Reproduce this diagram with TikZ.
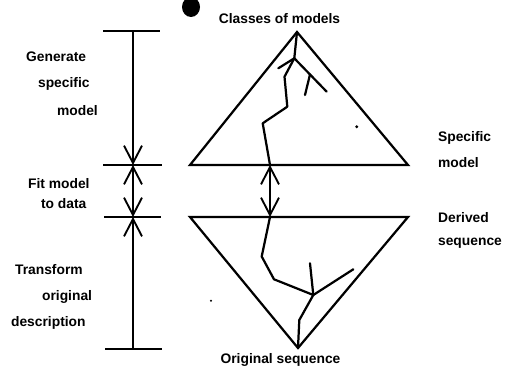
\documentclass[tikz,border=0pt]{standalone}
\usepackage{fontspec}
\setmainfont{Liberation Sans}
\usetikzlibrary{arrows.meta}

\begin{document}
\begin{tikzpicture}[x=0.03cm, y=-0.03cm,
  line width=1.9pt,
  lbl/.style={font=\fontsize{11.8}{13}\selectfont\bfseries, inner sep=0pt, anchor=base west},
  ttl/.style={lbl, anchor=base},
  barb/.style={-{Straight Barb[length=0.52cm, width=0.54cm, line width=1.6pt]}},
  dbarb/.style={{Straight Barb[length=0.52cm, width=0.54cm, line width=1.6pt]}-{Straight Barb[length=0.52cm, width=0.54cm, line width=1.6pt]}},
  branch/.style={line cap=round, line join=round}
]
  \useasboundingbox (0,0) rectangle (505,367);

  % scale on the left
  \coordinate (stop) at (133,31);
  \coordinate (sfit) at (133,165);
  \coordinate (sder) at (133,217);
  \coordinate (sbot) at (133,349);
  \draw (103,31) -- (160,31);
  \draw (103,165) -- (162,165);
  \draw (104,217) -- (161,217);
  \draw (105,349) -- (162,349);
  \draw[barb] (stop) -- (sfit);
  \draw[dbarb] (sfit) -- (sder);
  \draw[barb] (sbot) -- (sder);

  \node[lbl] (gen1) at (25,62) {Generate};
  \node[lbl] (gen2) at (37,88) {specific};
  \node[lbl] (gen3) at (56,115) {model};
  \node[lbl] (fit1) at (27,188) {Fit model};
  \node[lbl] (fit2) at (40,208) {to data};
  \node[lbl] (tr1)  at (14,274) {Transform};
  \node[lbl] (tr2)  at (41,300) {original};
  \node[lbl] (tr3)  at (10,326) {description};

  % the two triangles
  \coordinate (utop) at (297,32);
  \coordinate (uleft) at (190,165);
  \coordinate (uright) at (408,165);
  \coordinate (lleft) at (190,217);
  \coordinate (lright) at (408,217);
  \coordinate (lbot) at (298,348);
  \draw[line join=miter] (utop) -- (uright) -- (uleft) -- cycle;
  \draw[line join=miter] (lbot) -- (lright) -- (lleft) -- cycle;

  % tree in the upper triangle
  \coordinate (u1) at (294.3,58.3);
  \coordinate (ul) at (278.3,68.3);
  \coordinate (u2) at (284.5,76.7);
  \coordinate (u3) at (287.3,106.7);
  \coordinate (u4) at (262.7,123.3);
  \coordinate (u5) at (270,165);
  \coordinate (ur) at (326.7,91.7);
  \coordinate (um0) at (310,74.5);
  \coordinate (um1) at (305,95);
  \draw[branch] (utop) -- (u1) -- (u2) -- (u3) -- (u4) -- (u5);
  \draw[branch] (u1) -- (ul);
  \draw[branch] (u1) -- (ur);
  \draw[branch] (um0) -- (um1);

  % tree in the lower triangle
  \coordinate (l0) at (270,217);
  \coordinate (l1) at (261.7,256.5);
  \coordinate (l2) at (274,279.3);
  \coordinate (l3) at (313.3,295);
  \coordinate (lu) at (310,263.3);
  \coordinate (lr) at (353.3,269.3);
  \coordinate (l4) at (299.3,320);
  \draw[branch] (l0) -- (l1) -- (l2) -- (l3) -- (l4) -- (lbot);
  \draw[branch] (l3) -- (lu);
  \draw[branch] (l3) -- (lr);

  \draw[dbarb] (u5) -- (l0);

  \node[ttl] (cls) at (279.5,24) {Classes of models};
  \node[ttl] (org) at (280.5,363) {Original sequence};
  \node[lbl] (spec1) at (437,141) {Specific};
  \node[lbl] (spec2) at (437,167) {model};
  \node[lbl] (der1)  at (437,222) {Derived};
  \node[lbl] (der2)  at (437,245) {sequence};

  % marks on the sheet
  \fill (191,7) ellipse [x radius=9, y radius=10];
  \fill (356.7,126.7) circle [radius=1.6];
  \fill (211,300.7) circle [radius=1.1];
\end{tikzpicture}
\end{document}
